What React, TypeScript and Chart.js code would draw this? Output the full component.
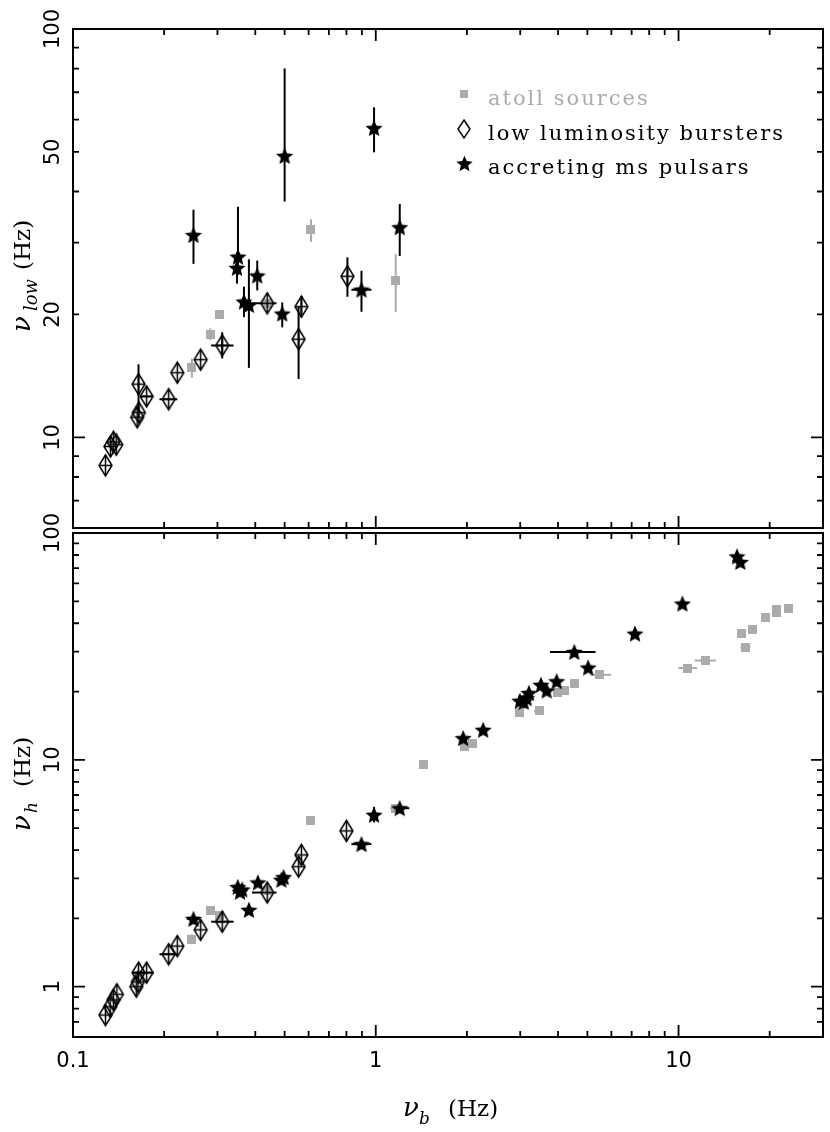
import React, { useEffect, useRef } from "react";
import { Chart, registerables } from "chart.js";

Chart.register(...registerables);

const GRAY = "#ababab";

// ---------- axes ----------
const xMin = 0.1;
const xMax = 30;
const xMajorTicks = [1, 10];
const xMinorTicks = [0.2, 0.3, 0.4, 0.5, 0.6, 0.7, 0.8, 0.9, 2, 3, 4, 5, 6, 7, 8, 9, 20];
const xLabelValues = [0.1, 1, 10];
const xLabelTexts = ["0.1", "1", "10"];

const yTopMin = 6;
const yTopMax = 100;
const yTopMajorTicks = [10];
const yTopMinorTicks = [7, 8, 9, 20, 30, 40, 50, 60, 70, 80, 90];
const yTopLabelValues = [10, 20, 50, 100];
const yTopLabelTexts = ["10", "20", "50", "100"];

const yBotMin = 0.6;
const yBotMax = 100;
const yBotMajorTicks = [1, 10];
const yBotMinorTicks = [0.7, 0.8, 0.9, 2, 3, 4, 5, 6, 7, 8, 9, 20, 30, 40, 50, 60, 70, 80, 90];
const yBotLabelValues = [1, 10, 100];
const yBotLabelTexts = ["1", "10", "100"];

const legendLabels = ["atoll sources", "low luminosity bursters", "accreting ms pulsars"];

// ---------- top panel: nu_low vs nu_b ----------
const atollTopX = [0.247, 0.284, 0.305, 0.44, 0.611, 1.164];
const atollTopY = [14.8, 17.9, 20.0, 21.3, 32.2, 24.2];
const atollTopYErr = [[14.0, 15.6], [17.3, 18.5], null, null, [30.1, 34.2], [20.3, 28.1]];
const atollTopXErr = [null, null, null, null, null, null];

const burstTopX = [0.128, 0.133, 0.136, 0.139, 0.163, 0.165, 0.1646, 0.175, 0.207, 0.221, 0.264, 0.311, 0.438, 0.568, 0.556, 0.806];
const burstTopY = [8.54, 9.5, 9.75, 9.6, 11.2, 11.5, 13.5, 12.6, 12.4, 14.4, 15.5, 16.8, 21.3, 20.9, 17.4, 24.8];
const burstTopXErr = [null, null, null, null, null, null, null, [0.168, 0.184], [0.193, 0.221], null, null, [0.286, 0.339], [0.39, 0.47], null, null, null];
const burstTopYErr = [null, null, null, null, null, null, [11.2, 15.1], null, null, null, null, [15.6, 18.1], null, [19.7, 22.2], [13.9, 20.9], [22.1, 27.6]];

const pulsTopX = [0.25, 0.3506, 0.348, 0.406, 0.367, 0.381, 0.5, 0.491, 0.987, 0.897, 1.2];
const pulsTopY = [31.3, 27.7, 26.0, 24.9, 21.5, 21.1, 48.9, 20.1, 57.2, 23.0, 32.7];
const pulsTopXErr = [null, null, null, null, null, null, null, null, null, [0.831, 0.968], null];
const pulsTopYErr = [[26.6, 36.1], [25.0, 36.7], [23.8, 27.5], [22.9, 27.1], [19.7, 23.4], [14.8, 27.3], [37.8, 80.1], [18.6, 21.4], [49.9, 64.3], [20.3, 25.6], [27.8, 37.3]];

// ---------- bottom panel: nu_h vs nu_b ----------
const atollBotX = [0.247, 0.284, 0.305, 0.44, 0.611, 1.16, 1.433, 1.969, 2.088, 2.977, 3.05, 3.466, 3.975, 4.194, 4.549, 5.502, 10.7, 12.3, 16.2, 16.6, 17.5, 19.4, 21.0, 21.0, 23.0];
const atollBotY = [1.62, 2.16, 2.07, 2.65, 5.38, 6.12, 9.57, 11.45, 11.77, 16.17, 18.4, 16.45, 19.8, 20.2, 21.6, 23.7, 25.4, 27.4, 36.2, 31.3, 37.7, 42.2, 45.9, 44.8, 46.7];
const atollBotXErr = [null, null, null, null, null, null, null, null, null, null, [2.93, 3.17], [3.33, 3.6], null, null, null, [5.1, 6.0], [10.0, 11.5], [11.3, 13.3], null, [16.0, 17.3], null, null, null, null, null];
const atollBotYErr = [[1.54, 1.7], null, null, null, null, null, null, null, null, null, null, null, null, null, null, null, null, null, null, null, null, null, null, null, null];

const burstBotX = [0.128, 0.1327, 0.136, 0.1396, 0.1618, 0.1638, 0.1646, 0.175, 0.207, 0.221, 0.264, 0.311, 0.438, 0.556, 0.568, 0.8];
const burstBotY = [0.75, 0.816, 0.874, 0.926, 1.0, 1.05, 1.153, 1.153, 1.39, 1.51, 1.78, 1.934, 2.6, 3.38, 3.81, 4.86];
const burstBotXErr = [null, null, null, null, null, null, [0.157, 0.172], [0.167, 0.185], [0.193, 0.221], null, null, [0.286, 0.339], [0.39, 0.47], null, null, null];
const burstBotYErr = [null, null, null, null, null, null, null, null, null, null, null, null, null, null, null, null];

const pulsBotX = [0.25, 0.35, 0.356, 0.362, 0.381, 0.408, 0.488, 0.496, 0.897, 0.987, 1.2, 1.944, 2.263, 2.992, 3.149, 3.204, 3.08, 3.512, 3.667, 3.957, 4.526, 5.03, 7.18, 10.3, 15.6, 16.0];
const pulsBotY = [1.99, 2.75, 2.62, 2.68, 2.18, 2.88, 2.96, 3.04, 4.25, 5.72, 6.12, 12.46, 13.56, 18.2, 18.7, 19.7, 18.0, 21.4, 20.2, 22.2, 29.9, 25.5, 36.0, 48.8, 78.8, 74.5];
const pulsBotXErr = [[0.238, 0.262], null, null, null, null, null, null, null, [0.831, 0.968], null, [1.12, 1.29], null, null, null, null, null, null, null, null, null, [3.76, 5.32], null, null, null, null, null];
const pulsBotYErr = [null, null, null, null, null, null, null, null, null, [5.3, 6.2], null, null, null, null, null, null, null, null, null, null, null, null, null, null, null, null];

// ---------- marker images ----------
function makeStar(R: number, r: number) {
  const c = document.createElement("canvas");
  const s = Math.ceil(2 * R + 2);
  c.width = s;
  c.height = s;
  const g = c.getContext("2d")!;
  const cx = s / 2;
  const cy = s / 2 + R * 0.09;
  g.beginPath();
  for (let k = 0; k < 10; k++) {
    const ang = -Math.PI / 2 + (k * Math.PI) / 5;
    const rad = k % 2 === 0 ? R : r;
    g.lineTo(cx + rad * Math.cos(ang), cy + rad * Math.sin(ang));
  }
  g.closePath();
  g.fillStyle = "#000";
  g.fill();
  return c;
}

function makeDiamond(w: number, h: number, cross: boolean) {
  const c = document.createElement("canvas");
  c.width = w + 4;
  c.height = h + 4;
  const g = c.getContext("2d")!;
  const cx = c.width / 2;
  const cy = c.height / 2;
  g.strokeStyle = "#000";
  g.lineWidth = 1.5;
  g.beginPath();
  g.moveTo(cx, cy - h / 2);
  g.lineTo(cx + w / 2, cy);
  g.lineTo(cx, cy + h / 2);
  g.lineTo(cx - w / 2, cy);
  g.closePath();
  g.stroke();
  if (cross) {
    g.beginPath();
    g.moveTo(cx, cy - h / 2);
    g.lineTo(cx, cy + h / 2);
    g.moveTo(cx - w / 2, cy);
    g.lineTo(cx + w / 2, cy);
    g.stroke();
  }
  return c;
}

function makeSquare(s: number) {
  const c = document.createElement("canvas");
  c.width = s;
  c.height = s;
  const g = c.getContext("2d")!;
  g.fillStyle = GRAY;
  g.fillRect(0, 0, s, s);
  return c;
}

function pts(xs: number[], ys: number[]) {
  return xs.map((x, i) => ({ x, y: ys[i] }));
}

// ---------- plugins ----------
const errorBarPlugin = {
  id: "errbars",
  beforeDatasetsDraw(chart: any) {
    const { ctx, chartArea: a } = chart;
    const xs = chart.scales.x;
    const ys = chart.scales.y;
    ctx.save();
    ctx.beginPath();
    ctx.rect(a.left, a.top, a.right - a.left, a.bottom - a.top);
    ctx.clip();
    chart.data.datasets.forEach((ds: any) => {
      ctx.strokeStyle = ds.errColor;
      ctx.lineWidth = 2;
      ds.data.forEach((p: any, i: number) => {
        const px = xs.getPixelForValue(p.x);
        const py = ys.getPixelForValue(p.y);
        const ye = ds.yErr && ds.yErr[i];
        const xe = ds.xErr && ds.xErr[i];
        ctx.beginPath();
        if (ye) {
          ctx.moveTo(px, ys.getPixelForValue(ye[0]));
          ctx.lineTo(px, ys.getPixelForValue(ye[1]));
        }
        if (xe) {
          ctx.moveTo(xs.getPixelForValue(xe[0]), py);
          ctx.lineTo(xs.getPixelForValue(xe[1]), py);
        }
        ctx.stroke();
      });
    });
    ctx.restore();
  },
};

function framePlugin(cfg: any) {
  return {
    id: "frame",
    afterDraw(chart: any) {
      const { ctx, chartArea: a } = chart;
      const xs = chart.scales.x;
      const ys = chart.scales.y;
      ctx.save();
      ctx.strokeStyle = "#000";
      ctx.lineWidth = 2;
      ctx.strokeRect(a.left, a.top, a.right - a.left, a.bottom - a.top);
      ctx.lineWidth = 1.8;
      ctx.beginPath();
      const xt = (v: number, len: number) => {
        const p = xs.getPixelForValue(v);
        ctx.moveTo(p, a.bottom);
        ctx.lineTo(p, a.bottom - len);
        ctx.moveTo(p, a.top);
        ctx.lineTo(p, a.top + len);
      };
      const yt = (v: number, len: number) => {
        const p = ys.getPixelForValue(v);
        ctx.moveTo(a.left, p);
        ctx.lineTo(a.left + len, p);
        ctx.moveTo(a.right, p);
        ctx.lineTo(a.right - len, p);
      };
      xMajorTicks.forEach((v) => xt(v, 12));
      xMinorTicks.forEach((v) => xt(v, 6));
      cfg.yMajor.forEach((v: number) => yt(v, 12));
      cfg.yMinor.forEach((v: number) => yt(v, 6));
      ctx.stroke();

      ctx.fillStyle = "#000";
      ctx.font = "21px 'DejaVu Sans'";
      // y labels (rotated)
      cfg.yLabelValues.forEach((v: number, i: number) => {
        const p = ys.getPixelForValue(v);
        ctx.save();
        ctx.translate(a.left - 14, p);
        ctx.rotate(-Math.PI / 2);
        ctx.textAlign = "center";
        ctx.textBaseline = "alphabetic";
        ctx.fillText(cfg.yLabelTexts[i], 0, 0);
        ctx.restore();
      });
      if (cfg.xLabels) {
        ctx.textAlign = "center";
        ctx.textBaseline = "alphabetic";
        xLabelValues.forEach((v, i) => {
          ctx.fillText(xLabelTexts[i], xs.getPixelForValue(v), a.bottom + 30);
        });
      }
      if (cfg.extra) cfg.extra(chart, ctx, a);
      ctx.restore();
    },
  };
}

function baseOptions(yMin: number, yMax: number, padding: any, plugin: any) {
  return {
    responsive: false,
    maintainAspectRatio: false,
    devicePixelRatio: 1,
    animation: false,
    events: [],
    layout: { padding },
    plugins: { legend: { display: false }, tooltip: { enabled: false } },
    scales: {
      x: { type: "logarithmic", min: xMin, max: xMax, display: false },
      y: { type: "logarithmic", min: yMin, max: yMax, display: false },
    },
  };
}

export default function App() {
  const topRef = useRef<HTMLCanvasElement>(null);
  const botRef = useRef<HTMLCanvasElement>(null);

  useEffect(() => {
    const star = makeStar(9, 4.1);
    const starLegend = makeStar(8.5, 3.9);
    const diamond = makeDiamond(13, 21, true);
    const diamondLegend = makeDiamond(12, 18, false);
    const square = makeSquare(9);
    const squareLegend = makeSquare(8);

    const makeSets = (ax, ay, axe, aye, bx, by, bxe, bye, px, py, pxe, pye) => [
      { label: legendLabels[2], data: pts(px, py), pointStyle: star, pointRadius: 5, order: 0, xErr: pxe, yErr: pye, errColor: "#000" },
      { label: legendLabels[1], data: pts(bx, by), pointStyle: diamond, pointRadius: 5, order: 1, xErr: bxe, yErr: bye, errColor: "#000" },
      { label: legendLabels[0], data: pts(ax, ay), pointStyle: square, pointRadius: 5, order: 2, xErr: axe, yErr: aye, errColor: GRAY },
    ];

    const topFrame = framePlugin({
      yMajor: yTopMajorTicks,
      yMinor: yTopMinorTicks,
      yLabelValues: yTopLabelValues,
      yLabelTexts: yTopLabelTexts,
      xLabels: false,
      extra: (chart: any, ctx: CanvasRenderingContext2D, a: any) => {
        // legend
        const mx = 464;
        const rows = [94, 129, 163];
        const imgs = [squareLegend, diamondLegend, starLegend];
        imgs.forEach((im, i) => ctx.drawImage(im, Math.round(mx - im.width / 2), Math.round(rows[i] - im.height / 2)));
        ctx.save();
        ctx.font = "21px 'DejaVu Serif'";
        (ctx as any).letterSpacing = "2px";
        ctx.textAlign = "left";
        ctx.textBaseline = "alphabetic";
        const cols = [GRAY, "#000", "#000"];
        legendLabels.forEach((t, i) => {
          ctx.fillStyle = cols[i];
          ctx.fillText(t, 488, rows[i] + 11);
        });
        ctx.restore();
        // y title
        ctx.save();
        ctx.fillStyle = "#000";
        ctx.translate(30, 332);
        ctx.rotate(-Math.PI / 2);
        ctx.textAlign = "left";
        ctx.font = "italic 26px 'DejaVu Serif'";
        ctx.fillText("ν", 0, 0);
        ctx.font = "italic 18px 'DejaVu Serif'";
        ctx.fillText("low", 21, 7);
        ctx.font = "23px 'DejaVu Serif'";
        ctx.fillText("(Hz)", 62, 0);
        ctx.restore();
      },
    });

    const botFrame = framePlugin({
      yMajor: yBotMajorTicks,
      yMinor: yBotMinorTicks,
      yLabelValues: yBotLabelValues,
      yLabelTexts: yBotLabelTexts,
      xLabels: true,
      extra: (chart: any, ctx: CanvasRenderingContext2D, a: any) => {
        ctx.save();
        ctx.fillStyle = "#000";
        ctx.textAlign = "left";
        // x title
        ctx.font = "italic 26px 'DejaVu Serif'";
        ctx.fillText("ν", 403, a.bottom + 79);
        ctx.font = "italic 17px 'DejaVu Serif'";
        ctx.fillText("b", 419, a.bottom + 87);
        ctx.font = "23px 'DejaVu Serif'";
        ctx.fillText("(Hz)", 448, a.bottom + 79);
        ctx.restore();
        // y title
        ctx.save();
        ctx.fillStyle = "#000";
        ctx.translate(30, a.top + 298);
        ctx.rotate(-Math.PI / 2);
        ctx.textAlign = "left";
        ctx.font = "italic 26px 'DejaVu Serif'";
        ctx.fillText("ν", 0, 0);
        ctx.font = "italic 17px 'DejaVu Serif'";
        ctx.fillText("h", 18, 7);
        ctx.font = "23px 'DejaVu Serif'";
        ctx.fillText("(Hz)", 44, 0);
        ctx.restore();
      },
    });

    const top = new Chart(topRef.current!, {
      type: "scatter",
      data: {
        datasets: makeSets(
          atollTopX, atollTopY, atollTopXErr, atollTopYErr,
          burstTopX, burstTopY, burstTopXErr, burstTopYErr,
          pulsTopX, pulsTopY, pulsTopXErr, pulsTopYErr
        ) as any,
      },
      options: baseOptions(yTopMin, yTopMax, { left: 73, right: 7, top: 29, bottom: 1 }, null) as any,
      plugins: [errorBarPlugin, topFrame] as any,
    });

    const bot = new Chart(botRef.current!, {
      type: "scatter",
      data: {
        datasets: makeSets(
          atollBotX, atollBotY, atollBotXErr, atollBotYErr,
          burstBotX, burstBotY, burstBotXErr, burstBotYErr,
          pulsBotX, pulsBotY, pulsBotXErr, pulsBotYErr
        ) as any,
      },
      options: baseOptions(yBotMin, yBotMax, { left: 73, right: 7, top: 53, bottom: 95 }, null) as any,
      plugins: [errorBarPlugin, botFrame] as any,
    });

    return () => {
      top.destroy();
      bot.destroy();
    };
  }, []);

  return (
    <div style={{ position: "absolute", left: 0, top: 0, width: 830, height: 1132, background: "#fff" }}>
      <canvas ref={topRef} width={830} height={534} style={{ position: "absolute", left: 0, top: 0 }} />
      <canvas ref={botRef} width={830} height={652} style={{ position: "absolute", left: 0, top: 480 }} />
    </div>
  );
}
